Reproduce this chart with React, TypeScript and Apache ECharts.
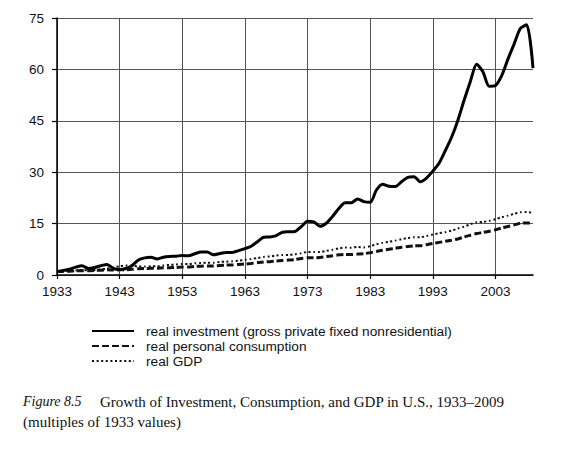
import React, { useEffect, useRef } from "react";
import * as echarts from "echarts";

const years = [
  "1933", "1934", "1935", "1936", "1937", "1938", "1939", "1940", "1941", "1942",
  "1943", "1944", "1945", "1946", "1947", "1948", "1949", "1950", "1951", "1952",
  "1953", "1954", "1955", "1956", "1957", "1958", "1959", "1960", "1961", "1962",
  "1963", "1964", "1965", "1966", "1967", "1968", "1969", "1970", "1971", "1972",
  "1973", "1974", "1975", "1976", "1977", "1978", "1979", "1980", "1981", "1982",
  "1983", "1984", "1985", "1986", "1987", "1988", "1989", "1990", "1991", "1992",
  "1993", "1994", "1995", "1996", "1997", "1998", "1999", "2000", "2001", "2002",
  "2003", "2004", "2005", "2006", "2007", "2008", "2009",
];

const investment = [
  1.0, 1.3, 1.7, 2.3, 2.7, 1.9, 2.2, 2.7, 3.1, 1.9,
  1.6, 1.9, 2.8, 4.4, 5.0, 5.2, 4.7, 5.2, 5.4, 5.5,
  5.7, 5.6, 6.2, 6.7, 6.7, 5.9, 6.3, 6.6, 6.6, 7.1,
  7.7, 8.4, 9.7, 11.0, 11.1, 11.5, 12.5, 12.6, 12.7, 14.1,
  15.7, 15.5, 14.2, 15.1, 17.1, 19.4, 21.1, 21.1, 22.2, 21.4,
  21.2, 24.8, 26.5, 25.9, 25.8, 27.2, 28.5, 28.7, 27.2, 28.3,
  30.3, 32.6, 36.3, 40.2, 45.1, 51.0, 56.5, 61.5, 59.3, 55.1,
  55.3, 58.2, 63.0, 67.5, 72.0, 73.0, 60.4,
];

const consumption = [
  1.0, 1.05, 1.12, 1.23, 1.28, 1.25, 1.32, 1.4, 1.5, 1.46,
  1.5, 1.55, 1.65, 1.85, 1.9, 1.95, 2.0, 2.12, 2.15, 2.2,
  2.3, 2.35, 2.5, 2.57, 2.62, 2.65, 2.8, 2.88, 2.93, 3.08,
  3.2, 3.38, 3.6, 3.8, 3.9, 4.1, 4.25, 4.35, 4.52, 4.8,
  5.03, 5.0, 5.1, 5.38, 5.62, 5.88, 6.02, 6.0, 6.1, 6.18,
  6.52, 6.88, 7.22, 7.52, 7.78, 8.1, 8.35, 8.52, 8.55, 8.85,
  9.2, 9.52, 9.82, 10.15, 10.5, 11.1, 11.6, 12.1, 12.4, 12.75,
  13.2, 13.7, 14.15, 14.6, 15.1, 15.2, 15.1,
];

const gdp = [
  1.0, 1.1, 1.2, 1.35, 1.42, 1.37, 1.48, 1.6, 1.88, 2.2,
  2.55, 2.75, 2.72, 2.45, 2.45, 2.55, 2.55, 2.77, 2.97, 3.08,
  3.22, 3.2, 3.43, 3.5, 3.58, 3.55, 3.8, 3.88, 3.98, 4.22,
  4.4, 4.65, 4.95, 5.27, 5.42, 5.67, 5.85, 5.86, 6.05, 6.37,
  6.72, 6.68, 6.68, 7.03, 7.35, 7.76, 8.0, 7.98, 8.18, 8.03,
  8.4, 9.0, 9.38, 9.7, 10.03, 10.42, 10.8, 11.0, 11.0, 11.38,
  11.8, 12.2, 12.5, 12.95, 13.55, 14.12, 14.8, 15.4, 15.5, 15.8,
  16.3, 16.85, 17.35, 17.85, 18.3, 18.4, 18.1,
];

const yTicks = { min: 0, max: 75, interval: 15 };

const seriesNames = [
  "real investment (gross private fixed nonresidential)",
  "real personal consumption",
  "real GDP",
];

const captionLabel = "Figure 8.5";
const captionTitle = "Growth of Investment, Consumption, and GDP in U.S., 1933–2009";
const captionSub = "(multiples of 1933 values)";

const sans = '"Liberation Sans", Arial, sans-serif';
const serif = '"Liberation Serif", "Times New Roman", serif';

export default function App() {
  const ref = useRef<HTMLDivElement>(null);

  useEffect(() => {
    if (!ref.current) return;
    const chart = echarts.init(ref.current, undefined, { renderer: "svg" });
    chart.setOption({
      animation: false,
      backgroundColor: "#ffffff",
      color: ["#111", "#111", "#000"],
      grid: { left: 57, right: 37, top: 18, bottom: 174, containLabel: false },
      xAxis: {
        type: "category",
        data: years,
        boundaryGap: false,
        axisLine: { show: true, lineStyle: { color: "#000", width: 1.5 } },
        axisTick: { show: true, interval: 9, length: 4, lineStyle: { color: "#000", width: 1.2 } },
        axisLabel: {
          interval: 9,
          margin: 9,
          color: "#111",
          fontSize: 13.5,
          fontFamily: sans,
        },
        splitLine: { show: true, interval: 9, lineStyle: { color: "#555", width: 1 } },
      },
      yAxis: {
        type: "value",
        min: yTicks.min,
        max: yTicks.max,
        interval: yTicks.interval,
        axisLine: { show: true, lineStyle: { color: "#000", width: 1.5 } },
        axisTick: { show: true, length: 5, lineStyle: { color: "#000", width: 1.2 } },
        axisLabel: { margin: 13, color: "#111", fontSize: 13.5, fontFamily: sans },
        splitLine: { show: true, lineStyle: { color: "#555", width: 1 } },
      },
      legend: {
        orient: "vertical",
        left: 86,
        top: 319,
        itemWidth: 42,
        itemHeight: 14,
        itemGap: 1,
        data: seriesNames,
        itemStyle: { opacity: 0 },
        textStyle: { color: "#111", fontSize: 13.7, fontFamily: sans, padding: [0, 0, 0, 7] },
      },
      series: [
        {
          name: seriesNames[2],
          type: "line",
          data: gdp,
          symbol: "none",
          smooth: 0.2,
          z: 3,
          itemStyle: { color: "#111" },
          lineStyle: { color: "#111", width: 2, type: [2, 2.6], cap: "butt" },
        },
        {
          name: seriesNames[1],
          type: "line",
          data: consumption,
          symbol: "none",
          smooth: 0.2,
          z: 4,
          itemStyle: { color: "#111" },
          lineStyle: { color: "#111", width: 3, type: [7, 3], cap: "butt" },
        },
        {
          name: seriesNames[0],
          type: "line",
          data: investment,
          symbol: "none",
          smooth: 0.25,
          z: 5,
          itemStyle: { color: "#000" },
          lineStyle: { color: "#000", width: 3 },
        },
      ],
      graphic: [
        {
          type: "text",
          left: 23,
          top: 394,
          style: { text: captionLabel, fill: "#111", fontSize: 14, fontFamily: serif, fontStyle: "italic" },
        },
        {
          type: "text",
          left: 100,
          top: 394,
          style: { text: captionTitle, fill: "#111", fontSize: 15, fontFamily: serif },
        },
        {
          type: "text",
          left: 23,
          top: 414,
          style: { text: captionSub, fill: "#111", fontSize: 15, fontFamily: serif },
        },
      ],
    });
    return () => chart.dispose();
  }, []);

  return (
    <div
      ref={ref}
      style={{ position: "fixed", left: 0, top: 0, width: 570, height: 449, background: "#fff" }}
    />
  );
}
